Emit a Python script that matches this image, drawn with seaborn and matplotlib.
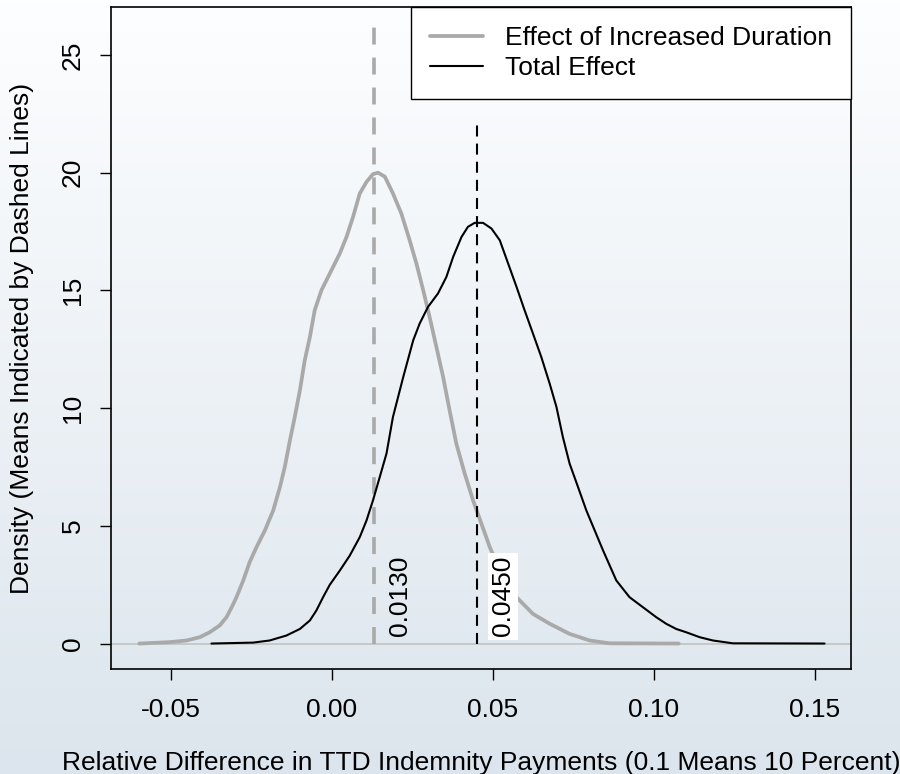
import numpy as np
import matplotlib
matplotlib.use("Agg")
import matplotlib.pyplot as plt
import seaborn as sns
from matplotlib.lines import Line2D

# Density estimates of the two simulated effects
series_names = ["Effect of Increased Duration", "Total Effect"]

duration_x = [-0.0598, -0.0503, -0.0451, -0.0410, -0.0379, -0.0348, -0.0327, -0.0311,
              -0.0296, -0.0275, -0.0255, -0.0234, -0.0208, -0.0182, -0.0161, -0.0146,
              -0.0130, -0.0115, -0.0099, -0.0084, -0.0068, -0.0053, -0.0032, -0.0006,
              0.0025, 0.0046, 0.0066, 0.0087, 0.0108, 0.0128, 0.0144, 0.0165, 0.0190,
              0.0216, 0.0242, 0.0263, 0.0284, 0.0304, 0.0325, 0.0346, 0.0366, 0.0387,
              0.0413, 0.0439, 0.0465, 0.0491, 0.0532, 0.0574, 0.0625, 0.0677, 0.0739,
              0.0801, 0.0863, 0.1078]
duration_density = [0.0, 0.06, 0.13, 0.27, 0.48, 0.77, 1.12, 1.54,
                     1.97, 2.68, 3.46, 4.09, 4.80, 5.65, 6.65, 7.50,
                     8.63, 9.62, 10.76, 12.03, 13.02, 14.16, 15.01, 15.72,
                     16.57, 17.28, 18.12, 19.12, 19.61, 19.94, 20.0, 19.83, 19.12,
                     18.27, 17.13, 16.14, 15.01, 13.87, 12.60, 11.32, 9.91, 8.49,
                     7.22, 6.08, 5.09, 4.09, 2.82, 1.97, 1.26, 0.84, 0.41,
                     0.13, 0.01, 0.0]

total_x = [-0.0374, -0.0244, -0.0193, -0.0141, -0.0099, -0.0068, -0.0048, -0.0027,
           -0.0006, 0.0025, 0.0056, 0.0087, 0.0108, 0.0128, 0.0149, 0.0170, 0.0190,
           0.0222, 0.0253, 0.0273, 0.0299, 0.0330, 0.0356, 0.0377, 0.0403, 0.0423,
           0.0444, 0.0470, 0.0496, 0.0522, 0.0548, 0.0574, 0.0599, 0.0625, 0.0651,
           0.0677, 0.0698, 0.0718, 0.0739, 0.0765, 0.0791, 0.0817, 0.0843, 0.0884,
           0.0925, 0.0967, 0.1008, 0.1039, 0.1070, 0.1101, 0.1143, 0.1184, 0.1246,
           0.1531]
total_density = [0.0, 0.04, 0.13, 0.34, 0.62, 0.98, 1.40, 1.97,
                 2.50, 3.10, 3.74, 4.52, 5.23, 6.08, 7.07, 8.07, 9.62,
                 11.32, 12.88, 13.59, 14.30, 14.87, 15.57, 16.42, 17.27, 17.70,
                 17.87, 17.87, 17.63, 17.13, 16.14, 15.15, 14.16, 13.17, 12.17,
                 11.04, 10.05, 8.77, 7.64, 6.65, 5.65, 4.80, 3.95, 2.68,
                 1.97, 1.54, 1.12, 0.84, 0.62, 0.48, 0.27, 0.13, 0.01,
                 0.0]

means = [0.0130, 0.0450]
mean_line_tops = [26.7, 22.1]
label_backgrounds = [None, "white"]

x_ticks = [-0.05, 0.00, 0.05, 0.10, 0.15]
y_ticks = [0, 5, 10, 15, 20, 25]

x_title = "Relative Difference in TTD Indemnity Payments (0.1 Means 10 Percent)"
y_title = "Density (Means Indicated by Dashed Lines)"

GRAY = "#a9a9a9"
FS = 19

sns.set_theme(style="white")
plt.rcParams["font.family"] = ["Liberation Sans", "DejaVu Sans"]
plt.rcParams.update({"text.color": "black", "axes.labelcolor": "black",
                     "xtick.color": "black", "ytick.color": "black"})

fig = plt.figure(figsize=(9, 7.74), dpi=100)

# soft vertical gradient behind everything
bg = fig.add_axes([0, 0, 1, 1], zorder=-10)
top_c = np.array([253, 254, 255]) / 255.0
bot_c = np.array([220, 229, 237]) / 255.0
t = np.linspace(0, 1, 256)[:, None, None]
bg.imshow(top_c + (bot_c - top_c) * t, aspect="auto", extent=[0, 1, 0, 1],
          origin="upper", interpolation="bilinear")
bg.axis("off")

ax = fig.add_axes([0.1233, 0.1357, 0.8222, 0.8553])
ax.set_facecolor("none")

ax.axhline(0, color="#bebebe", lw=1.1, zorder=1)

sns.lineplot(x=duration_x, y=duration_density, color=GRAY, lw=2.7, ax=ax, zorder=3)
sns.lineplot(x=total_x, y=total_density, color="black", lw=1.5, ax=ax, zorder=4)

# dashed mean markers
ax.vlines(means[0], 0, mean_line_tops[0], colors=GRAY, lw=2.6,
          linestyles=(0, (4.7, 3.6)), zorder=2)
ax.vlines(means[1], 0, mean_line_tops[1], colors="black", lw=1.5,
          linestyles=(0, (5.3, 3.4)), zorder=5)

for m, bgc in zip(means, label_backgrounds):
    kw = {}
    if bgc:
        kw["bbox"] = dict(boxstyle="square,pad=0.12", fc=bgc, ec="none")
    ax.text(m + 0.0082, 0.3, f"{m:.4f}", rotation=90, ha="center", va="bottom",
            fontsize=FS, color="black", zorder=6, **kw)

ax.set_xlim(-0.0686, 0.1613)
ax.set_ylim(-1.08, 27.04)
ax.set_xticks(x_ticks)
ax.set_xticklabels([f"{v:.2f}" for v in x_ticks], fontsize=FS)
ax.set_yticks(y_ticks)
ax.set_yticklabels([str(v) for v in y_ticks], fontsize=FS, rotation=90, va="center")
ax.tick_params(axis="both", direction="out", length=8, width=1.0, color="black",
               labelcolor="black", bottom=True, left=True)
ax.tick_params(axis="x", pad=13)
ax.tick_params(axis="y", pad=11)
ax.set_xlabel("")
ax.set_ylabel("")
for s in ax.spines.values():
    s.set_visible(True)
    s.set_color("black")
    s.set_linewidth(1.2)

handles = [Line2D([], [], color=GRAY, lw=2.7), Line2D([], [], color="black", lw=1.5)]
leg = ax.legend(handles, series_names, loc="upper right", bbox_to_anchor=(1, 1),
                borderaxespad=0, frameon=True, fancybox=False, framealpha=1,
                facecolor="white", edgecolor="black", fontsize=FS,
                handlelength=2.0, handletextpad=0.85, borderpad=0.72, labelspacing=0.24)
leg.get_frame().set_linewidth(1.0)
for txt in leg.get_texts():
    txt.set_color("black")

fig.text(0.5344, 0.0142, x_title, ha="center", va="center", fontsize=FS, color="black")
fig.text(0.0244, 0.5633, y_title, ha="center", va="center", rotation=90, fontsize=FS,
         color="black")

fig.savefig("out.png", dpi=100)
